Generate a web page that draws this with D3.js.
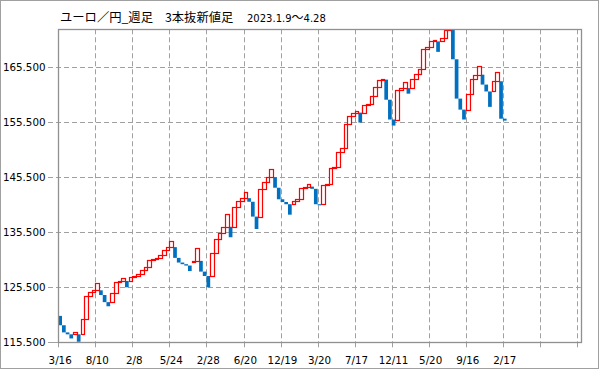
<!DOCTYPE html>
<html><head><meta charset="utf-8">
<script src="https://cdn.jsdelivr.net/npm/d3@7/dist/d3.min.js"></script>
<style>body{margin:0;background:#fff}svg{display:block}</style>
</head><body><svg id="c" width="599" height="369"></svg>
<script>
// three-line-break bars: open and close of each line
const opens = [
120.3,118.6,117.3,116.95,116.95,116.95,116.95,119.7,123.9,124.7,
124.95,124.95,124.1,122.8,122.8,124.4,126.4,126.65,126.65,126.65,
127.3,127.6,128.0,128.65,129.2,130.4,130.65,130.85,131.4,132.3,
132.8,132.8,130.85,130.0,129.7,129.45,130.3,130.3,130.3,128.35,
127.55,127.55,131.7,134.25,135.3,136.5,136.5,136.5,140.15,141.25,
141.7,141.7,141.05,138.35,138.35,143.3,144.6,145.5,145.5,143.6,
141.5,141.0,140.6,140.6,141.2,141.55,143.5,143.8,143.8,143.4,
140.6,140.6,144.1,144.3,147.15,147.3,150.15,150.8,155.15,156.65,
157.25,157.25,157.25,158.6,158.8,160.2,161.9,163.25,163.25,159.6,
156.0,156.0,161.4,161.7,161.7,161.7,163.4,164.3,165.25,168.8,
169.1,170.2,170.2,170.2,170.9,172.3,172.3,166.95,159.8,157.8,
157.8,160.65,163.4,164.15,164.15,162.35,161.1,161.1,162.95,162.95,
156.15];
const closes = [
118.6,117.3,116.95,116.2,117.3,115.6,119.7,123.9,124.7,124.95,
126.2,124.1,122.8,122.05,124.4,126.4,126.65,127.1,125.5,127.3,
127.6,128.0,128.65,129.2,130.4,130.65,130.85,131.4,132.3,132.8,
133.9,130.85,130.0,129.7,129.45,128.45,130.3,132.6,128.35,127.55,
125.5,131.7,134.25,135.3,136.5,138.8,134.6,140.15,141.25,141.7,
142.8,141.05,138.35,136.1,143.3,144.6,145.5,147.0,143.6,141.5,
141.0,140.6,138.7,141.2,141.55,143.5,143.8,144.35,143.4,140.6,
140.4,144.1,144.3,147.15,147.3,150.15,150.8,155.15,156.65,157.25,
157.6,155.45,158.6,158.8,160.2,161.9,163.25,163.4,159.6,156.0,
154.9,161.4,161.7,162.8,160.7,163.4,164.3,165.25,168.8,169.1,
170.2,170.5,168.3,170.9,172.3,173.5,166.95,159.8,157.8,156.0,
160.65,163.4,164.15,165.7,162.35,161.1,158.3,162.95,164.6,156.15,
155.8];
const tickLabels = ["3/16","8/10","2/8","5/24","2/28","6/20","12/19","3/20","7/17","12/11","5/20","9/16","2/17","",""];
const yTicks = [115.5,125.5,135.5,145.5,155.5,165.5];
const titleMain = "ユーロ／円_週足";
const titleSub = "3本抜新値足";
const titleDateA = "2023.1.9";
const titleDateSep = "～";
const titleDateB = "4.28";
const slots = 141;

const svg = d3.select("#c");
const L = 58.3, R = 580.7, T = 29.3, B = 342.3;
const x = d3.scaleLinear().domain([0, slots]).range([L, R]);
const y = d3.scaleLinear().domain([115.5, 172.4]).range([B, T]);
const crisp = v => Math.round(v) + 0.5;
const grid = "#a0a0a0";
const numFont = "'DejaVu Sans', Verdana, sans-serif";
const jpFont = "'Noto Sans CJK JP', sans-serif";

// outer frame
svg.append("rect").attr("x",0.5).attr("y",0.5).attr("width",598).attr("height",368)
  .attr("fill","#fff").attr("stroke","#a0a0a0");

// horizontal grid + y labels
const yg = svg.append("g");
yTicks.forEach(v => {
  const yy = crisp(y(v));
  if (v !== 115.5) {
    yg.append("line").attr("x1",48).attr("x2",R).attr("y1",yy).attr("y2",yy)
      .attr("stroke",grid).attr("stroke-dasharray","5,3");
  } else {
    yg.append("line").attr("x1",48).attr("x2",L).attr("y1",yy).attr("y2",yy).attr("stroke",grid);
  }
  yg.append("text").attr("x",45.5).attr("y",y(v)).attr("dy","0.36em")
    .attr("text-anchor","end").attr("font-family",numFont).attr("font-size","10.3px")
    .attr("fill","#000").text(d3.format(".3f")(v));
});

// vertical grid + x labels
const xg = svg.append("g");
tickLabels.forEach((lab, k) => {
  const i = k * 10;
  const xx = crisp(x(i));
  if (i > 0) {
    xg.append("line").attr("x1",xx).attr("x2",xx).attr("y1",T).attr("y2",B)
      .attr("stroke",grid).attr("stroke-dasharray","5,3");
  }
  xg.append("line").attr("x1",xx).attr("x2",xx).attr("y1",B).attr("y2",B+5).attr("stroke",grid);
  if (lab) {
    xg.append("text").attr("x",x(i + 0.5)).attr("y",364)
      .attr("text-anchor","middle").attr("font-family",numFont).attr("font-size","10.3px")
      .attr("fill","#000").text(lab);
  }
});

// bars
const data = opens.map((o, i) => ({i, o, c: closes[i]}));
svg.append("clipPath").attr("id","clip").append("rect")
  .attr("x",L).attr("y",T).attr("width",R-L).attr("height",B-T);
const bars = svg.append("g").attr("clip-path","url(#clip)");
bars.selectAll("rect.dn").data(data.filter(d => d.c < d.o)).join("rect")
  .attr("class","dn")
  .attr("x", d => x(d.i)).attr("width", d => x(d.i+1) - x(d.i))
  .attr("y", d => y(d.o)).attr("height", d => Math.max(1, y(d.c) - y(d.o)))
  .attr("fill","#0070c0");
bars.selectAll("rect.up").data(data.filter(d => d.c >= d.o)).join("rect")
  .attr("class","up")
  .attr("x", d => Math.round(x(d.i)) + 0.5).attr("width", d => Math.max(1, Math.round(x(d.i+1)) - Math.round(x(d.i))))
  .attr("y", d => Math.round(y(d.c)) + 0.5).attr("height", d => Math.max(1, Math.round(y(d.o)) - Math.round(y(d.c))))
  .attr("fill","#fff").attr("stroke","#ff0000").attr("stroke-width",1.2);

// plot frame
svg.append("rect").attr("x",crisp(L)).attr("y",crisp(T)).attr("width",Math.round(R)-Math.round(L))
  .attr("height",Math.round(B)-Math.round(T)).attr("fill","none").attr("stroke","#909090").attr("stroke-width",1.3);

// title
const t = svg.append("text").attr("x",60).attr("y",21.5).attr("fill","#000");
t.append("tspan").attr("font-family",jpFont).attr("font-size","12.3px").text(titleMain);
t.append("tspan").attr("x",165).attr("font-family",jpFont).attr("font-size","12.3px").text(titleSub);
t.append("tspan").attr("x",247).attr("font-family",numFont).attr("font-size","10px").text(titleDateA);
t.append("tspan").attr("font-family",jpFont).attr("font-size","12px").text(titleDateSep);
t.append("tspan").attr("font-family",numFont).attr("font-size","10px").text(titleDateB);
</script>
</body></html>
